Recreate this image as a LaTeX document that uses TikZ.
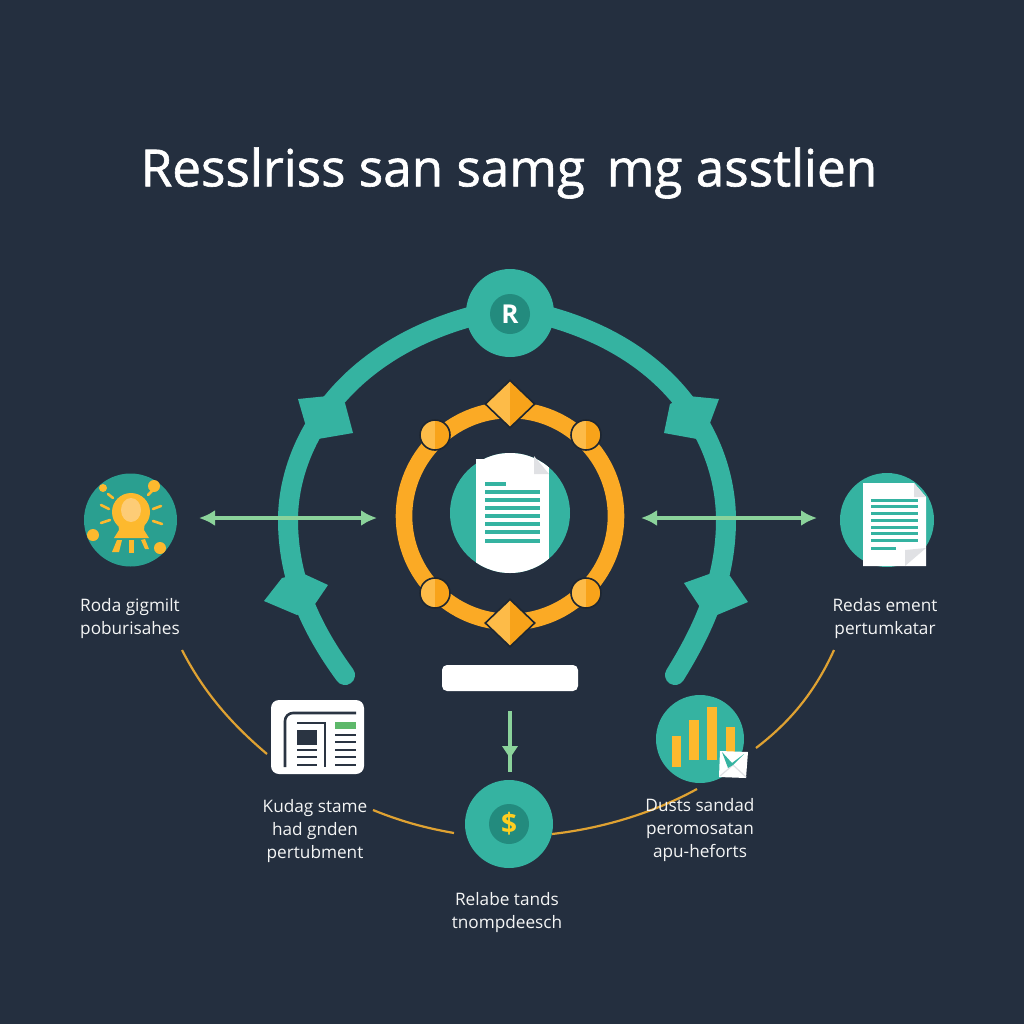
\documentclass[tikz,border=0pt]{standalone}
\usepackage{fontspec}
\setmainfont{Open Sans}
\newfontfamily\titlefont[FakeBold=1.2]{Open Sans}
\usetikzlibrary{shapes.geometric,arrows.meta}
\definecolor{bgc}{HTML}{242F3F}
\definecolor{teal}{HTML}{35B3A1}
\definecolor{tealdk}{HTML}{238B7E}
\definecolor{tealmd}{HTML}{2A9F90}
\definecolor{orng}{HTML}{FBAA25}
\definecolor{orlt}{HTML}{FDBB48}
\definecolor{ordk}{HTML}{F8A31A}
\definecolor{wire}{HTML}{DFA232}
\definecolor{mint}{HTML}{8BD39B}
\definecolor{foldg}{HTML}{E0E1E4}
\definecolor{bulbc}{HTML}{FDB92E}
\definecolor{inkc}{HTML}{2A3442}
\definecolor{tabg}{HTML}{5DB86A}
\tikzset{
  x=0.5pt,y=-0.5pt,
  disc/.style={circle,inner sep=0pt,minimum size=#1,fill=teal},
  lab/.style={align=center,text=white!95!bgc,inner sep=0pt,font=\fontsize{8.6}{11.5}\selectfont},
  orb/.style={circle,inner sep=0pt,minimum size=15pt,fill=orlt,draw=bgc!80!black,line width=0.8pt,
    path picture={\fill[ordk] (path picture bounding box.north) rectangle (path picture bounding box.south east);}},
  gem/.style={diamond,inner sep=0pt,minimum width=25pt,minimum height=24pt,fill=orlt,draw=bgc!80!black,line width=0.8pt,
    path picture={\fill[ordk] (path picture bounding box.north) rectangle (path picture bounding box.south east);}},
  link/.style={draw=mint,line width=1.7pt,{Latex[length=8pt,width=8pt]}-{Latex[length=8pt,width=8pt]}},
  wirecurve/.style={draw=wire,line width=1.1pt},
  txtline/.style={draw=teal,line width=1.9pt},
  inkline/.style={draw=inkc,line width=1.3pt},
  ray/.style={draw=bulbc,line width=1.3pt,line cap=round}
}
\begin{document}
\begin{tikzpicture}
\fill[bgc] (0,0) rectangle (1024,1024);
\useasboundingbox (0,0) rectangle (1024,1024);

\node[text=white,inner sep=0pt,font=\titlefont\fontsize{25.6}{28}\selectfont] (title) at (509,173) {Resslriss san samg\, mg asstlien};

% outer teal arc
\draw[teal,line width=10pt,line cap=round] (345,675) .. controls (312,630) and (288,580) .. (288,520) .. controls (288,440) and (350,335) .. (510,308) .. controls (670,335) and (726,440) .. (726,520) .. controls (726,580) and (703,630) .. (675,675);
\fill[teal] (298,399)--(328,396)--(345,403)--(353,433)--(318,439)--(305,423)--cycle;
\fill[teal] (719,399)--(688,396)--(670,404)--(664,433)--(697,439)--(710,423)--cycle;
\fill[teal] (264,601)--(282,578)--(302,573)--(328,585)--(313,607)--(297,615)--cycle;
\fill[teal] (684,583)--(712,573)--(730,576)--(748,602)--(717,615)--(700,607)--cycle;

% top badge
\node[disc=44pt] (top) at (510,313) {};
\node[circle,fill=tealdk,minimum size=20pt,inner sep=0pt,text=white,font=\bfseries\fontsize{13}{13}\selectfont] (topr) at (510,314) {R};

% orange ring
\node[circle,draw=orng,line width=8.3pt,minimum size=106pt,inner sep=0pt] (ring) at (510,516) {};
\node[orb] (o1) at (435,435) {};
\node[orb] (o2) at (586,435) {};
\node[orb] (o3) at (435,593) {};
\node[orb] (o4) at (586,593) {};
\node[gem] (g1) at (510,404) {};
\node[gem] (g2) at (510,623) {};

% centre document
\node[disc=60pt] (core) at (510,513) {};
\begin{scope}
\clip (510,513) circle[radius=60];
\fill[white] (476,440) rectangle (549,580);
\end{scope}
\fill[white] (476,459)--(492,459)--(492,480)--(476,480)--cycle;
\fill[foldg] (534,456)--(549,474)--(534,474)--cycle;
\draw[txtline] (485,484)--(506,484);
\foreach \yy in {492,500,508,516,524,532,541}{\draw[txtline] (485,\yy)--(540,\yy);}

% double arrows
\coordinate (al) at (199,518);
\coordinate (alr) at (377,518);
\coordinate (ar) at (641,518);
\coordinate (arr) at (817,518);
\draw[link] (al)--(alr);
\draw[link] (ar)--(arr);

% bulb icon
\node[disc=46.5pt,fill=tealmd] (bulb) at (130.5,520) {};
\fill[bulbc] (131,512) circle[radius=19];
\fill[bulbc] (118,520)--(119,530)--(114,538)--(149,538)--(144,530)--(145,520)--cycle;
\fill[orlt!75!white] (131,510) ellipse[x radius=10,y radius=12];
\draw[ray] (108,494)--(113,498);
\draw[ray] (101,505)--(109,509);
\draw[ray] (101,523)--(110,520);
\draw[ray] (148,495)--(152,491);
\draw[ray] (153,509)--(161,506);
\draw[ray] (153,521)--(162,524);
\fill[bulbc] (112,552)--(117,540)--(122,540)--(119,552)--cycle;
\fill[bulbc] (129,540)--(134,540)--(134,553)--(129,553)--cycle;
\fill[bulbc] (141,540)--(145,539)--(149,549)--(145,549)--cycle;
\fill[bulbc] (93,535) circle[radius=6];
\fill[bulbc] (154,486) circle[radius=6];
\fill[bulbc] (103,488) circle[radius=4];
\fill[bulbc] (160,548) circle[radius=6];

% right document icon
\node[disc=47pt] (docc) at (887,520) {};
\fill[white] (863,483)--(914,483)--(926,497)--(926,566)--(863,566)--cycle;
\fill[foldg] (914,483)--(926,497)--(914,497)--cycle;
\fill[foldg] (905,566)--(905,550)--(926,548)--cycle;
\foreach \yy in {500,506.5,513,520,527,533.5,540}{\draw[txtline,line width=1.5pt] (871,\yy)--(918,\yy);}
\draw[txtline,line width=1.5pt] (871,548)--(896,548);

% news card
\node[draw=none,fill=white,rounded corners=4pt,minimum width=46.5pt,minimum height=37pt,inner sep=0pt] (news) at (317.5,737) {};
\draw[inkline,rounded corners=4pt] (285,767)--(285,713)--(356,713);
\draw[inkline] (297,723)--(325,723)--(325,767);
\fill[inkc] (297,730) rectangle (317,745);
\foreach \yy in {750,757,765}{\draw[inkline] (297,\yy)--(317,\yy);}
\fill[tabg] (335,722) rectangle (356,729);
\foreach \yy in {735,742,750,757,765}{\draw[inkline] (335,\yy)--(356,\yy);}

% white bar and down arrow
\node[fill=white,rounded corners=2.5pt,minimum width=68pt,minimum height=13pt,inner sep=0pt] (bar) at (510,678) {};
\coordinate (da) at (510,711);
\coordinate (db) at (510,772);
\draw[draw=mint,line width=1.7pt] (da)--(db);
\fill[mint] (502,746)--(518,746)--(510,758)--cycle;

% dollar
\node[disc=44pt] (dollar) at (509,824) {};
\node[circle,fill=tealdk,minimum size=20pt,inner sep=0pt,text=bulbc!70!yellow,font=\bfseries\fontsize{14}{14}\selectfont] (dollarin) at (509,824) {\$};

% chart
\node[disc=44pt] (chart) at (700,739) {};
\fill[bulbc] (672,736) rectangle (681,767);
\fill[bulbc] (689,720) rectangle (699,760);
\fill[bulbc] (707,707) rectangle (717,760);
\fill[bulbc] (726,727) rectangle (735,752);
\fill[white] (720,751)--(748,752)--(746,778)--(719,777)--cycle;
\draw[foldg,line width=0.6pt] (720,776)--(733,765)--(746,777);
\fill[teal] (722,752)--(728,768)--(733,765)--(744,754)--(732,763)--cycle;

% orange curves
\coordinate (c1a) at (182,650);
\coordinate (c1b) at (267,754);
\coordinate (c2a) at (373,810);
\coordinate (c2b) at (454,833);
\coordinate (c3a) at (552,834);
\coordinate (c3b) at (697,789);
\coordinate (c4a) at (756,748);
\coordinate (c4b) at (834,650);
\draw[wirecurve] (c1a) .. controls (205,695) and (235,727) .. (c1b);
\draw[wirecurve] (c2a) .. controls (400,821) and (425,828) .. (c2b);
\draw[wirecurve] (c3a) .. controls (605,828) and (655,812) .. (c3b);
\draw[wirecurve] (c4a) .. controls (790,722) and (815,692) .. (c4b);

% labels
\node[lab] (l1) at (130,619) {Roda gigmilt\\poburisahes};
\node[lab] (l2) at (885,619) {Redas ement\\pertumkatar};
\node[lab] (l3) at (315,831) {Kudag stame\\had gnden\\pertubment};
\node[lab] (l4) at (507,913) {Relabe tands\\tnompdeesch};
\node[lab] (l5) at (700,830) {Dusts sandad\\peromosatan\\apu-heforts};
\end{tikzpicture}
\end{document}
